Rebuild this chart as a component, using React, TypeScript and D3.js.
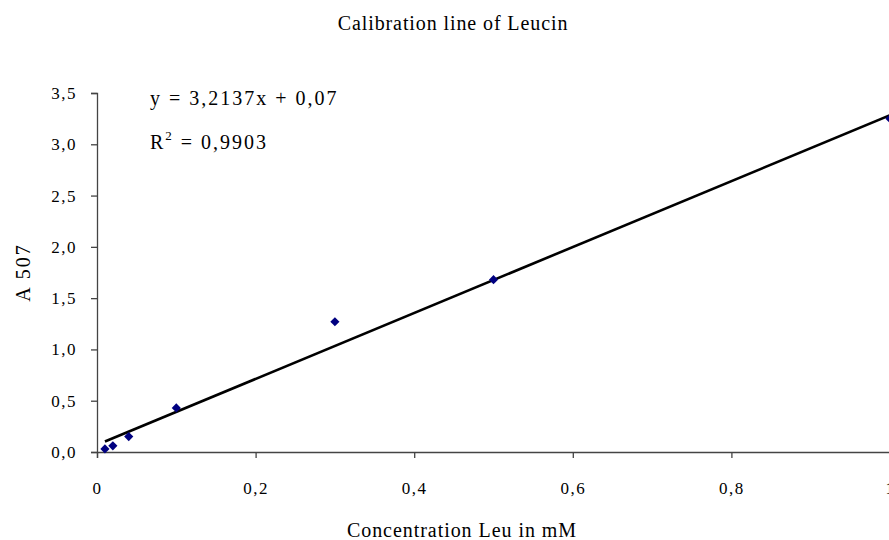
import React, { useEffect, useRef } from 'react';
import * as d3 from 'd3';

const concentration = [0.01, 0.02, 0.04, 0.1, 0.3, 0.5, 1.0];
const absorbance = [0.03, 0.06, 0.15, 0.43, 1.27, 1.68, 3.25];
const xTicks = [0, 0.2, 0.4, 0.6, 0.8, 1];
const yTicks = [0, 0.5, 1, 1.5, 2, 2.5, 3, 3.5];
const slope = 3.2137;
const intercept = 0.07;
const equationLabel = 'y = 3,2137x + 0,07';
const r2Value = '0,9903';

export default function App() {
  const svgRef = useRef<SVGSVGElement>(null);

  useEffect(() => {
    const width = 889;
    const height = 540;
    const margin = { top: 93, right: -1, bottom: 88, left: 97 };
    const font = '"Liberation Serif", "Times New Roman", serif';

    const svg = d3.select(svgRef.current).attr('width', width).attr('height', height);
    svg.selectAll('*').remove();

    const x = d3.scaleLinear().domain([0, 1]).range([margin.left, width - margin.right]);
    const y = d3.scaleLinear().domain([0, 3.5]).range([height - margin.bottom, margin.top]);

    const comma = (v: number) => d3.format('.1f')(v).replace('.', ',');

    // title
    svg
      .append('text')
      .attr('x', 453)
      .attr('y', 30)
      .attr('text-anchor', 'middle')
      .style('font-family', font)
      .style('font-size', '20px')
      .style('letter-spacing', '0.9px')
      .text('Calibration line of Leucin');

    // y axis
    const yAxis = svg
      .append('g')
      .attr('transform', `translate(${margin.left},0)`)
      .call(
        d3
          .axisLeft(y)
          .tickValues(yTicks)
          .tickSize(6)
          .tickPadding(14)
          .tickFormat((d) => comma(d as number))
      );
    yAxis.select('.domain').attr('stroke', '#444').attr('stroke-width', 1.3);
    yAxis.selectAll('.tick line').attr('stroke', '#444').attr('stroke-width', 1.3);
    yAxis
      .selectAll('.tick text')
      .style('font-family', font)
      .style('font-size', '17px')
      .style('letter-spacing', '1.5px')
      .attr('fill', '#000');

    // x axis
    const xAxis = svg
      .append('g')
      .attr('transform', `translate(0,${y(0)})`)
      .call(
        d3
          .axisBottom(x)
          .tickValues(xTicks)
          .tickSize(6)
          .tickPadding(24)
          .tickFormat((d) => (d === 0 || d === 1 ? String(d) : comma(d as number)))
      );
    xAxis.select('.domain').attr('stroke', '#444').attr('stroke-width', 1.3);
    xAxis.selectAll('.tick line').attr('stroke', '#444').attr('stroke-width', 1.3);
    xAxis
      .selectAll('.tick text')
      .style('font-family', font)
      .style('font-size', '17px')
      .style('letter-spacing', '1.5px')
      .attr('fill', '#000');

    // axis titles
    svg
      .append('text')
      .attr('transform', `translate(30,${(y(0) + y(3.5)) / 2}) rotate(-90)`)
      .attr('text-anchor', 'middle')
      .style('font-family', font)
      .style('font-size', '20px')
      .style('letter-spacing', '2px')
      .text('A 507');

    svg
      .append('text')
      .attr('x', 462)
      .attr('y', 537)
      .attr('text-anchor', 'middle')
      .style('font-family', font)
      .style('font-size', '20px')
      .style('letter-spacing', '0.95px')
      .text('Concentration Leu in mM');

    // trendline
    const x0 = d3.min(concentration) as number;
    const x1 = d3.max(concentration) as number;
    svg
      .append('line')
      .attr('x1', x(x0))
      .attr('y1', y(slope * x0 + intercept))
      .attr('x2', x(x1))
      .attr('y2', y(slope * x1 + intercept))
      .attr('stroke', '#000')
      .attr('stroke-width', 2.6);

    // points
    const symbol = d3.symbol().type(d3.symbolSquare).size(42);
    svg
      .append('g')
      .selectAll('path')
      .data(concentration.map((c, i) => [c, absorbance[i]]))
      .enter()
      .append('path')
      .attr('d', symbol)
      .attr('transform', (d) => `translate(${x(d[0])},${y(d[1])}) rotate(45)`)
      .attr('fill', '#000080');

    // equation
    svg
      .append('text')
      .attr('x', 150)
      .attr('y', 105)
      .style('font-family', font)
      .style('font-size', '20px')
      .style('letter-spacing', '2px')
      .text(equationLabel);

    const r2 = svg
      .append('text')
      .attr('x', 150)
      .attr('y', 149)
      .style('font-family', font)
      .style('font-size', '20px')
      .style('letter-spacing', '2px');
    r2.append('tspan').text('R');
    r2.append('tspan').attr('dy', -9).style('font-size', '13px').text('2');
    r2.append('tspan').attr('dy', 9).text(` = ${r2Value}`);
  }, []);

  return (
    <div style={{ position: 'absolute', left: 0, top: 0 }}>
      <svg ref={svgRef} style={{ display: 'block' }}></svg>
    </div>
  );
}
